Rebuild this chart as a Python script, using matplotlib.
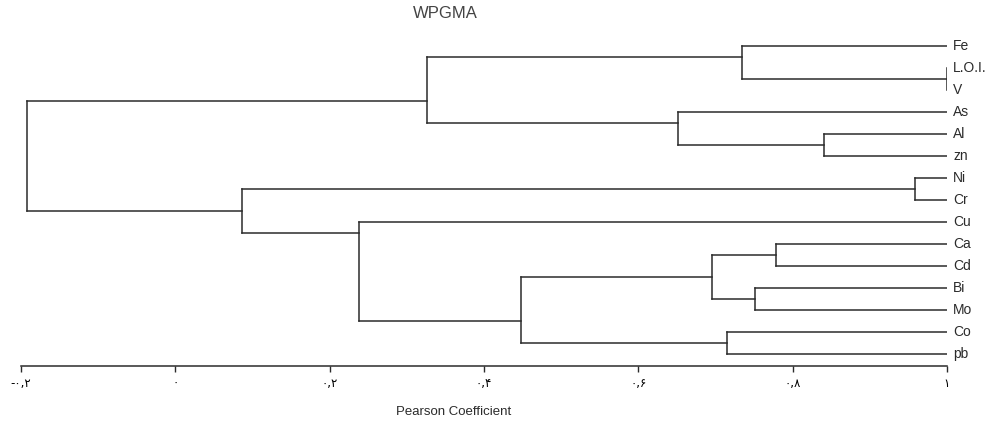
import matplotlib
matplotlib.use('Agg')
import matplotlib.pyplot as plt

# =========================
# Dados do dendrograma (WPGMA)
# =========================
folhas = ['Fe', 'L.O.I.', 'V', 'As', 'Al', 'zn', 'Ni', 'Cr', 'Cu',
          'Ca', 'Cd', 'Bi', 'Mo', 'Co', 'pb']

# fusões: (filho_a, filho_b, altura) ; inteiros >= 100 referem fusões anteriores
fusoes = [
    ('L.O.I.', 'V', 1.0),      # 100
    ('Fe', 100, 0.734),        # 101
    ('Al', 'zn', 0.841),       # 102
    ('As', 102, 0.652),        # 103
    (101, 103, 0.326),         # 104
    ('Ni', 'Cr', 0.959),       # 105
    ('Ca', 'Cd', 0.778),       # 106
    ('Bi', 'Mo', 0.751),       # 107
    (106, 107, 0.696),         # 108
    ('Co', 'pb', 0.715),       # 109
    (108, 109, 0.448),         # 110
    ('Cu', 110, 0.238),        # 111
    (105, 111, 0.087),         # 112
    (104, 112, -0.192),        # 113
]

ticks = [-0.2, 0.0, 0.2, 0.4, 0.6, 0.8, 1.0]
tick_labels = ['-۰,۲', '۰', '۰,۲', '۰,۴', '۰,۶', '۰,۸', '۱']

cor = '#2b2b2b'
fonte = ['Liberation Sans', 'DejaVu Sans']

fig = plt.figure(figsize=(9.87, 4.25), dpi=100)
ax = fig.add_axes([21 / 987, 59 / 425, 926 / 987, 336 / 425])

# nó: (altura, y, primeira folha, última folha)
pos = {nome: (1.0, i, i, i) for i, nome in enumerate(folhas)}
for k, (a, b, h) in enumerate(fusoes):
    ha, ya, pa, ua = pos[a]
    hb, yb, pb, ub = pos[b]
    ax.plot([ha, h], [ya, ya], color=cor, lw=1.1)
    ax.plot([hb, h], [yb, yb], color=cor, lw=1.1)
    ax.plot([h, h], [ya, yb], color=cor, lw=1.1)
    # a ligação fica entre a última folha de a e a primeira de b
    pos[100 + k] = (h, (ua + pb) / 2, pa, ub)

for i, nome in enumerate(folhas):
    ax.text(1.0 + 0.008, i, nome, ha='left', va='center', fontsize=10,
            color=cor, family=fonte)

ax.set_xlim(-0.2, 1.0)
ax.set_ylim(14.545, -0.727)
ax.set_yticks([])
ax.set_xticks(ticks)
ax.set_xticklabels(tick_labels, fontsize=8.5, family=['DejaVu Sans'])
ax.tick_params(axis='x', length=4, width=1, color=cor, pad=4)
for lado in ['top', 'right', 'left']:
    ax.spines[lado].set_visible(False)
ax.spines['bottom'].set_color(cor)
ax.spines['bottom'].set_linewidth(1.1)

fig.text(445 / 987, 1 - 13 / 425, 'WPGMA', ha='center', va='center',
         fontsize=12, color='#444444', family=fonte)
fig.text(454 / 987, 1 - 412 / 425, 'Pearson Coefficient', ha='center',
         va='center', fontsize=9.5, color=cor, family=fonte)

plt.savefig('out.png', dpi=100)
plt.close()
